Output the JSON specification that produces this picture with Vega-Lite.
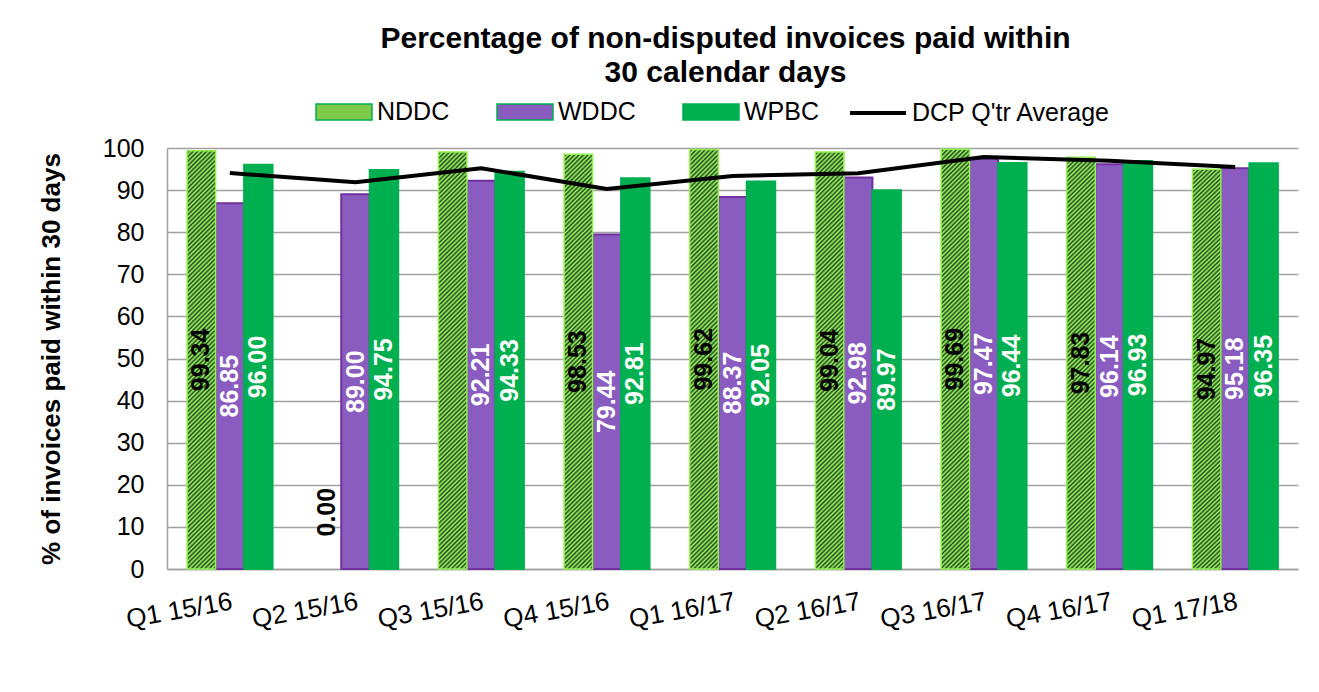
{
  "$schema": "https://vega.github.io/schema/vega-lite/v6.json",
  "width": 1131,
  "height": 421,
  "autosize": {"type": "none"},
  "padding": {"left": 167, "top": 148, "right": 21, "bottom": 123},
  "background": "white",
  "config": {"font": "Liberation Sans", "view": {"stroke": null}},
  "title": {
    "text": ["Percentage of non-disputed invoices paid within", "30 calendar days"],
    "fontSize": 30,
    "fontWeight": "bold",
    "font": "Liberation Sans",
    "color": "black",
    "anchor": "middle",
    "frame": "group",
    "offset": -5,
    "dx": -7,
    "lineHeight": 34
  },
  "data": {
    "values": [
      {"quarter": "Q1 15/16", "series": "NDDC", "value": 99.34},
      {"quarter": "Q2 15/16", "series": "NDDC", "value": 0.00},
      {"quarter": "Q3 15/16", "series": "NDDC", "value": 99.05},
      {"quarter": "Q4 15/16", "series": "NDDC", "value": 98.53},
      {"quarter": "Q1 16/17", "series": "NDDC", "value": 99.62},
      {"quarter": "Q2 16/17", "series": "NDDC", "value": 99.04},
      {"quarter": "Q3 16/17", "series": "NDDC", "value": 99.69},
      {"quarter": "Q4 16/17", "series": "NDDC", "value": 97.83},
      {"quarter": "Q1 17/18", "series": "NDDC", "value": 94.97},
      {"quarter": "Q1 15/16", "series": "WDDC", "value": 86.85},
      {"quarter": "Q2 15/16", "series": "WDDC", "value": 89.00},
      {"quarter": "Q3 15/16", "series": "WDDC", "value": 92.21},
      {"quarter": "Q4 15/16", "series": "WDDC", "value": 79.44},
      {"quarter": "Q1 16/17", "series": "WDDC", "value": 88.37},
      {"quarter": "Q2 16/17", "series": "WDDC", "value": 92.98},
      {"quarter": "Q3 16/17", "series": "WDDC", "value": 97.47},
      {"quarter": "Q4 16/17", "series": "WDDC", "value": 96.14},
      {"quarter": "Q1 17/18", "series": "WDDC", "value": 95.18},
      {"quarter": "Q1 15/16", "series": "WPBC", "value": 96.00},
      {"quarter": "Q2 15/16", "series": "WPBC", "value": 94.75},
      {"quarter": "Q3 15/16", "series": "WPBC", "value": 94.33},
      {"quarter": "Q4 15/16", "series": "WPBC", "value": 92.81},
      {"quarter": "Q1 16/17", "series": "WPBC", "value": 92.05},
      {"quarter": "Q2 16/17", "series": "WPBC", "value": 89.97},
      {"quarter": "Q3 16/17", "series": "WPBC", "value": 96.44},
      {"quarter": "Q4 16/17", "series": "WPBC", "value": 96.93},
      {"quarter": "Q1 17/18", "series": "WPBC", "value": 96.35},
      {"quarter": "Q1 15/16", "series": "DCP Q'tr Average", "value": 94.06},
      {"quarter": "Q2 15/16", "series": "DCP Q'tr Average", "value": 91.88},
      {"quarter": "Q3 15/16", "series": "DCP Q'tr Average", "value": 95.2},
      {"quarter": "Q4 15/16", "series": "DCP Q'tr Average", "value": 90.26},
      {"quarter": "Q1 16/17", "series": "DCP Q'tr Average", "value": 93.35},
      {"quarter": "Q2 16/17", "series": "DCP Q'tr Average", "value": 94.0},
      {"quarter": "Q3 16/17", "series": "DCP Q'tr Average", "value": 97.87},
      {"quarter": "Q4 16/17", "series": "DCP Q'tr Average", "value": 96.97},
      {"quarter": "Q1 17/18", "series": "DCP Q'tr Average", "value": 95.5}
    ]
  },
  "encoding": {
    "x": {
      "field": "quarter",
      "type": "nominal",
      "scale": {
        "domain": ["Q1 15/16", "Q2 15/16", "Q3 15/16", "Q4 15/16", "Q1 16/17", "Q2 16/17", "Q3 16/17", "Q4 16/17", "Q1 17/18"],
        "paddingInner": 0.32,
        "paddingOuter": 0.16
      },
      "axis": {
        "title": null,
        "labelAngle": -10,
        "labelAlign": "right",
        "labelBaseline": "top",
        "labelPadding": 19,
        "ticks": false,
        "domainColor": "#A0A0A0",
        "domainWidth": 1.5,
        "labelFontSize": 26,
        "labelColor": "black",
        "grid": false
      }
    }
  },
  "layer": [
    {
      "transform": [{"filter": "(datum.series === 'WDDC' || datum.series === 'WPBC') && datum.value > 0"}],
      "mark": {"type": "bar", "strokeWidth": 2},
      "encoding": {
        "xOffset": {"field": "series", "type": "nominal", "scale": {"domain": ["NDDC", "WDDC", "WPBC"], "paddingInner": 0, "paddingOuter": 0}},
        "y": {
          "field": "value",
          "type": "quantitative",
          "scale": {"domain": [0, 100], "nice": false},
          "axis": {
            "title": "% of invoices paid within  30 days",
            "values": [0, 10, 20, 30, 40, 50, 60, 70, 80, 90, 100],
            "grid": true,
            "gridColor": "#A0A0A0",
            "gridWidth": 1.5,
            "domainColor": "#A0A0A0",
            "domainWidth": 1.5,
            "ticks": false,
            "labelFontSize": 25,
            "labelPadding": 23,
            "labelColor": "black",
            "titleFontSize": 26,
            "titleFontWeight": "bold",
            "titleColor": "black",
            "titlePadding": 38
          }
        },
        "color": {
          "field": "series",
          "type": "nominal",
          "scale": {
            "domain": ["NDDC", "WDDC", "WPBC"],
            "range": ["#7FC94A", "#8B5CBF", "#00B050"]
          },
          "legend": {
            "title": null,
            "orient": "none",
            "legendX": 148,
            "legendY": -65,
            "direction": "horizontal",
            "columnPadding": 44,
            "labelFontSize": 25,
            "labelColor": "black",
            "labelOffset": 4,
            "labelLimit": 400,
            "symbolSize": 3136,
            "symbolType": "M-1,-0.29H1V0.29H-1Z",
            "padding": 0,
            "encode": {
              "symbols": {
                "stroke": {
                  "condition": [
                    {"test": "datum.value === 'WDDC'", "value": "#7030A0"},
                    {"test": "datum.value === 'NDDC'", "value": "#92F050"}
                  ],
                  "value": "#00B050"
                },
                "strokeWidth": {"value": 1.5},
                "opacity": {"value": 1}
              }
            }
          }
        },
        "stroke": {"condition": {"test": "datum.series === 'WDDC'", "value": "#7030A0"}, "value": "#00B050"}
      }
    },
    {
      "transform": [{"filter": "datum.series === 'NDDC' && datum.value > 0"}],
      "mark": {
        "type": "bar",
        "stroke": "#92F050",
        "strokeWidth": 1.5,
        "fill": {"gradient": "linear", "x1": 0, "y1": 0, "x2": 0.0723, "y2": 1.063, "stops": [
          {"offset": 0, "color": "#9f6"}, {"offset": 0.005, "color": "#27411a"}, {"offset": 0.01, "color": "#9f6"}, {"offset": 0.015, "color": "#27411a"}, {"offset": 0.02, "color": "#9f6"}, {"offset": 0.025, "color": "#27411a"}, {"offset": 0.03, "color": "#9f6"}, {"offset": 0.035, "color": "#27411a"}, {"offset": 0.04, "color": "#9f6"}, {"offset": 0.045, "color": "#27411a"},
          {"offset": 0.05, "color": "#9f6"}, {"offset": 0.055, "color": "#27411a"}, {"offset": 0.06, "color": "#9f6"}, {"offset": 0.065, "color": "#27411a"}, {"offset": 0.07, "color": "#9f6"}, {"offset": 0.075, "color": "#27411a"}, {"offset": 0.08, "color": "#9f6"}, {"offset": 0.085, "color": "#27411a"}, {"offset": 0.09, "color": "#9f6"}, {"offset": 0.095, "color": "#27411a"},
          {"offset": 0.1, "color": "#9f6"}, {"offset": 0.105, "color": "#27411a"}, {"offset": 0.11, "color": "#9f6"}, {"offset": 0.115, "color": "#27411a"}, {"offset": 0.12, "color": "#9f6"}, {"offset": 0.125, "color": "#27411a"}, {"offset": 0.13, "color": "#9f6"}, {"offset": 0.135, "color": "#27411a"}, {"offset": 0.14, "color": "#9f6"}, {"offset": 0.145, "color": "#27411a"},
          {"offset": 0.15, "color": "#9f6"}, {"offset": 0.155, "color": "#27411a"}, {"offset": 0.16, "color": "#9f6"}, {"offset": 0.165, "color": "#27411a"}, {"offset": 0.17, "color": "#9f6"}, {"offset": 0.175, "color": "#27411a"}, {"offset": 0.18, "color": "#9f6"}, {"offset": 0.185, "color": "#27411a"}, {"offset": 0.19, "color": "#9f6"}, {"offset": 0.195, "color": "#27411a"},
          {"offset": 0.2, "color": "#9f6"}, {"offset": 0.205, "color": "#27411a"}, {"offset": 0.21, "color": "#9f6"}, {"offset": 0.215, "color": "#27411a"}, {"offset": 0.22, "color": "#9f6"}, {"offset": 0.225, "color": "#27411a"}, {"offset": 0.23, "color": "#9f6"}, {"offset": 0.235, "color": "#27411a"}, {"offset": 0.24, "color": "#9f6"}, {"offset": 0.245, "color": "#27411a"},
          {"offset": 0.25, "color": "#9f6"}, {"offset": 0.255, "color": "#27411a"}, {"offset": 0.26, "color": "#9f6"}, {"offset": 0.265, "color": "#27411a"}, {"offset": 0.27, "color": "#9f6"}, {"offset": 0.275, "color": "#27411a"}, {"offset": 0.28, "color": "#9f6"}, {"offset": 0.285, "color": "#27411a"}, {"offset": 0.29, "color": "#9f6"}, {"offset": 0.295, "color": "#27411a"},
          {"offset": 0.3, "color": "#9f6"}, {"offset": 0.305, "color": "#27411a"}, {"offset": 0.31, "color": "#9f6"}, {"offset": 0.315, "color": "#27411a"}, {"offset": 0.32, "color": "#9f6"}, {"offset": 0.325, "color": "#27411a"}, {"offset": 0.33, "color": "#9f6"}, {"offset": 0.335, "color": "#27411a"}, {"offset": 0.34, "color": "#9f6"}, {"offset": 0.345, "color": "#27411a"},
          {"offset": 0.35, "color": "#9f6"}, {"offset": 0.355, "color": "#27411a"}, {"offset": 0.36, "color": "#9f6"}, {"offset": 0.365, "color": "#27411a"}, {"offset": 0.37, "color": "#9f6"}, {"offset": 0.375, "color": "#27411a"}, {"offset": 0.38, "color": "#9f6"}, {"offset": 0.385, "color": "#27411a"}, {"offset": 0.39, "color": "#9f6"}, {"offset": 0.395, "color": "#27411a"},
          {"offset": 0.4, "color": "#9f6"}, {"offset": 0.405, "color": "#27411a"}, {"offset": 0.41, "color": "#9f6"}, {"offset": 0.415, "color": "#27411a"}, {"offset": 0.42, "color": "#9f6"}, {"offset": 0.425, "color": "#27411a"}, {"offset": 0.43, "color": "#9f6"}, {"offset": 0.435, "color": "#27411a"}, {"offset": 0.44, "color": "#9f6"}, {"offset": 0.445, "color": "#27411a"},
          {"offset": 0.45, "color": "#9f6"}, {"offset": 0.455, "color": "#27411a"}, {"offset": 0.46, "color": "#9f6"}, {"offset": 0.465, "color": "#27411a"}, {"offset": 0.47, "color": "#9f6"}, {"offset": 0.475, "color": "#27411a"}, {"offset": 0.48, "color": "#9f6"}, {"offset": 0.485, "color": "#27411a"}, {"offset": 0.49, "color": "#9f6"}, {"offset": 0.495, "color": "#27411a"},
          {"offset": 0.5, "color": "#9f6"}, {"offset": 0.505, "color": "#27411a"}, {"offset": 0.51, "color": "#9f6"}, {"offset": 0.515, "color": "#27411a"}, {"offset": 0.52, "color": "#9f6"}, {"offset": 0.525, "color": "#27411a"}, {"offset": 0.53, "color": "#9f6"}, {"offset": 0.535, "color": "#27411a"}, {"offset": 0.54, "color": "#9f6"}, {"offset": 0.545, "color": "#27411a"},
          {"offset": 0.55, "color": "#9f6"}, {"offset": 0.555, "color": "#27411a"}, {"offset": 0.56, "color": "#9f6"}, {"offset": 0.565, "color": "#27411a"}, {"offset": 0.57, "color": "#9f6"}, {"offset": 0.575, "color": "#27411a"}, {"offset": 0.58, "color": "#9f6"}, {"offset": 0.585, "color": "#27411a"}, {"offset": 0.59, "color": "#9f6"}, {"offset": 0.595, "color": "#27411a"},
          {"offset": 0.6, "color": "#9f6"}, {"offset": 0.605, "color": "#27411a"}, {"offset": 0.61, "color": "#9f6"}, {"offset": 0.615, "color": "#27411a"}, {"offset": 0.62, "color": "#9f6"}, {"offset": 0.625, "color": "#27411a"}, {"offset": 0.63, "color": "#9f6"}, {"offset": 0.635, "color": "#27411a"}, {"offset": 0.64, "color": "#9f6"}, {"offset": 0.645, "color": "#27411a"},
          {"offset": 0.65, "color": "#9f6"}, {"offset": 0.655, "color": "#27411a"}, {"offset": 0.66, "color": "#9f6"}, {"offset": 0.665, "color": "#27411a"}, {"offset": 0.67, "color": "#9f6"}, {"offset": 0.675, "color": "#27411a"}, {"offset": 0.68, "color": "#9f6"}, {"offset": 0.685, "color": "#27411a"}, {"offset": 0.69, "color": "#9f6"}, {"offset": 0.695, "color": "#27411a"},
          {"offset": 0.7, "color": "#9f6"}, {"offset": 0.705, "color": "#27411a"}, {"offset": 0.71, "color": "#9f6"}, {"offset": 0.715, "color": "#27411a"}, {"offset": 0.72, "color": "#9f6"}, {"offset": 0.725, "color": "#27411a"}, {"offset": 0.73, "color": "#9f6"}, {"offset": 0.735, "color": "#27411a"}, {"offset": 0.74, "color": "#9f6"}, {"offset": 0.745, "color": "#27411a"},
          {"offset": 0.75, "color": "#9f6"}, {"offset": 0.755, "color": "#27411a"}, {"offset": 0.76, "color": "#9f6"}, {"offset": 0.765, "color": "#27411a"}, {"offset": 0.77, "color": "#9f6"}, {"offset": 0.775, "color": "#27411a"}, {"offset": 0.78, "color": "#9f6"}, {"offset": 0.785, "color": "#27411a"}, {"offset": 0.79, "color": "#9f6"}, {"offset": 0.795, "color": "#27411a"},
          {"offset": 0.8, "color": "#9f6"}, {"offset": 0.805, "color": "#27411a"}, {"offset": 0.81, "color": "#9f6"}, {"offset": 0.815, "color": "#27411a"}, {"offset": 0.82, "color": "#9f6"}, {"offset": 0.825, "color": "#27411a"}, {"offset": 0.83, "color": "#9f6"}, {"offset": 0.835, "color": "#27411a"}, {"offset": 0.84, "color": "#9f6"}, {"offset": 0.845, "color": "#27411a"},
          {"offset": 0.85, "color": "#9f6"}, {"offset": 0.855, "color": "#27411a"}, {"offset": 0.86, "color": "#9f6"}, {"offset": 0.865, "color": "#27411a"}, {"offset": 0.87, "color": "#9f6"}, {"offset": 0.875, "color": "#27411a"}, {"offset": 0.88, "color": "#9f6"}, {"offset": 0.885, "color": "#27411a"}, {"offset": 0.89, "color": "#9f6"}, {"offset": 0.895, "color": "#27411a"},
          {"offset": 0.9, "color": "#9f6"}, {"offset": 0.905, "color": "#27411a"}, {"offset": 0.91, "color": "#9f6"}, {"offset": 0.915, "color": "#27411a"}, {"offset": 0.92, "color": "#9f6"}, {"offset": 0.925, "color": "#27411a"}, {"offset": 0.93, "color": "#9f6"}, {"offset": 0.935, "color": "#27411a"}, {"offset": 0.94, "color": "#9f6"}, {"offset": 0.945, "color": "#27411a"},
          {"offset": 0.95, "color": "#9f6"}, {"offset": 0.955, "color": "#27411a"}, {"offset": 0.96, "color": "#9f6"}, {"offset": 0.965, "color": "#27411a"}, {"offset": 0.97, "color": "#9f6"}, {"offset": 0.975, "color": "#27411a"}, {"offset": 0.98, "color": "#9f6"}, {"offset": 0.985, "color": "#27411a"}, {"offset": 0.99, "color": "#9f6"}, {"offset": 0.995, "color": "#27411a"},
          {"offset": 1, "color": "#9f6"}
        ]}
      },
      "encoding": {
        "xOffset": {"field": "series", "type": "nominal"},
        "y": {"field": "value", "type": "quantitative"}
      }
    },
    {
      "transform": [{"filter": "datum.series === \"DCP Q'tr Average\""}],
      "mark": {"type": "line", "strokeWidth": 4},
      "encoding": {
        "y": {"field": "value", "type": "quantitative"},
        "stroke": {
          "field": "series",
          "type": "nominal",
          "scale": {"domain": ["DCP Q'tr Average"], "range": ["#000000"]},
          "legend": {
            "title": null,
            "orient": "none",
            "legendX": 681,
            "legendY": -65,
            "direction": "horizontal",
            "labelFontSize": 25,
            "labelColor": "black",
            "labelOffset": 4,
            "labelLimit": 400,
            "symbolSize": 3136,
            "symbolType": "stroke",
            "symbolStrokeWidth": 4,
            "padding": 0
          }
        }
      }
    },
    {
      "transform": [
        {"filter": "datum.series !== \"DCP Q'tr Average\""},
        {"filter": "!(datum.quarter === 'Q3 15/16' && datum.series === 'NDDC')"},
        {"calculate": "max(datum.value / 2, 13.5)", "as": "mid"}
      ],
      "mark": {"type": "text", "angle": 270, "fontSize": 25, "fontWeight": "bold", "align": "center", "baseline": "middle"},
      "encoding": {
        "xOffset": {"field": "series", "type": "nominal"},
        "y": {"field": "mid", "type": "quantitative"},
        "text": {"field": "value", "type": "quantitative", "format": ".2f"},
        "color": {"condition": {"test": "datum.series === 'NDDC'", "value": "black"}, "value": "white"}
      }
    }
  ]
}
